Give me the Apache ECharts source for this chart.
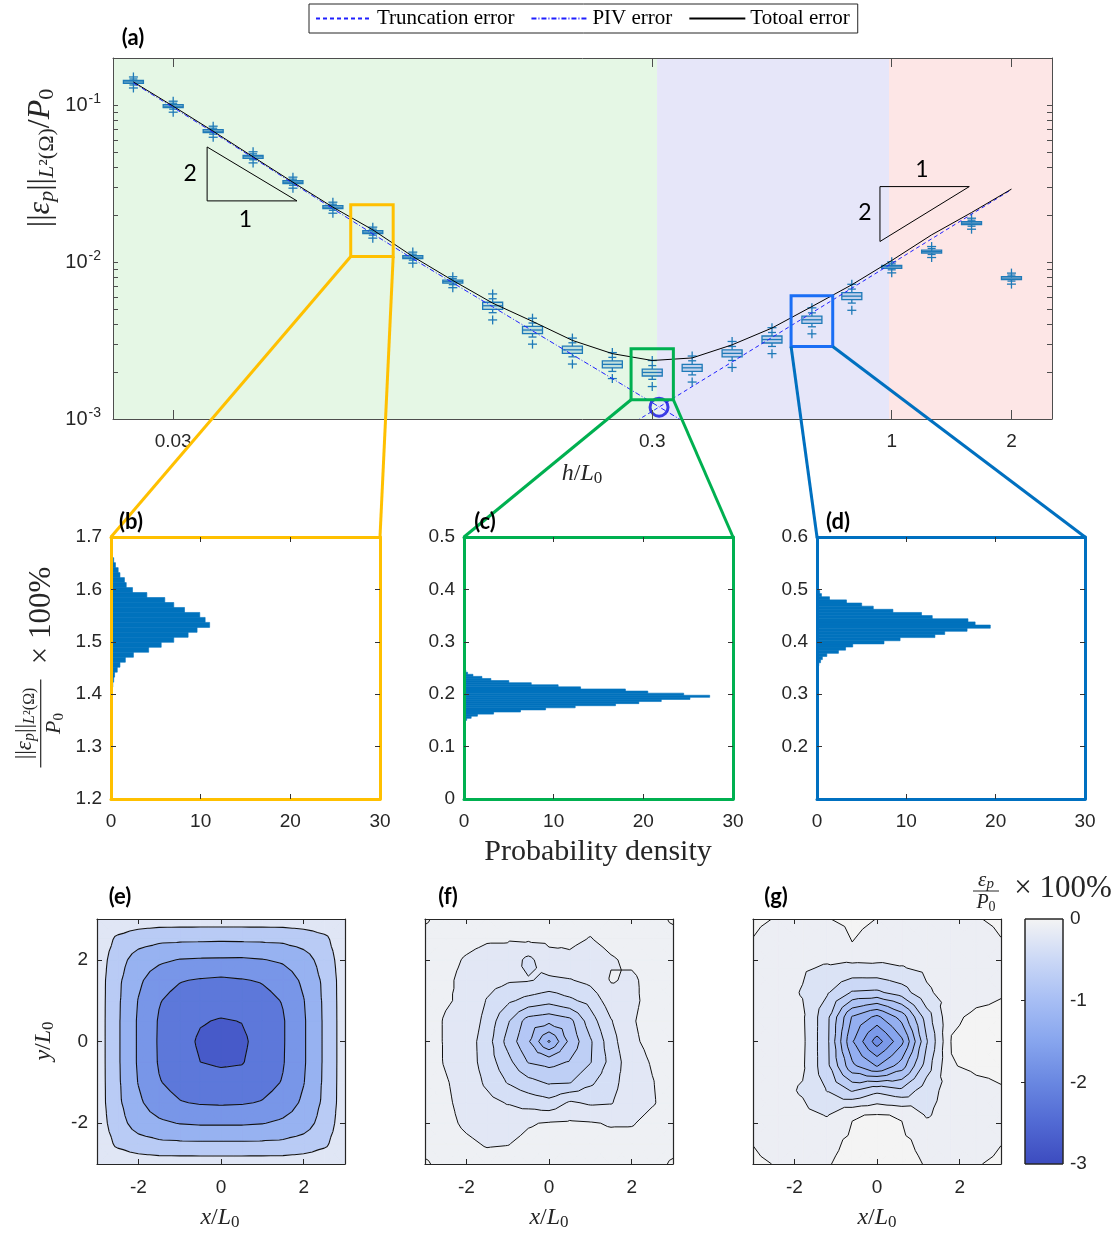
<!DOCTYPE html>
<html>
<head>
<meta charset="utf-8">
<script src="https://cdn.jsdelivr.net/npm/echarts@6/dist/echarts.min.js"></script>
<style>
html,body{margin:0;padding:0;background:#ffffff;}
#chart{width:1119px;height:1234px;}
</style>
</head>
<body>
<div id="chart"></div>
<script>
// ================= DATA: panel (a) =================
const boxH      = [0.0261,0.0316,0.0383,0.0464,0.0562,0.0681,0.0825,0.1000,0.1212,0.1468,0.1778,0.2154,0.2610,0.3162,0.3831,0.4642,0.5623,0.6813,0.8254,1.0000,1.2115,1.4678,1.7783];
const boxMed    = [0.1407,0.0986,0.0683,0.0469,0.0323,0.0224,0.01553,0.01076,0.0075,0.00527,0.00369,0.00276,0.00223,0.00198,0.00212,0.00262,0.00321,0.00429,0.00607,0.00933,0.01168,0.0177,0.00791];
const boxQ1     = [0.1377,0.0965,0.0668,0.0459,0.0316,0.0219,0.01520,0.01053,0.00734,0.00500,0.00350,0.00262,0.00212,0.00188,0.00201,0.00249,0.00305,0.00407,0.00576,0.00913,0.01143,0.01732,0.00774];
const boxQ3     = [0.1438,0.1008,0.0698,0.0479,0.0330,0.0229,0.01587,0.01100,0.00767,0.00555,0.00389,0.00291,0.00235,0.00208,0.00223,0.00276,0.00338,0.00452,0.00639,0.00954,0.01194,0.01809,0.00808];
const boxWLo    = [0.1346,0.0944,0.0654,0.0449,0.0309,0.0214,0.01486,0.01030,0.00718,0.00476,0.00333,0.00249,0.00201,0.00179,0.00191,0.00236,0.00290,0.00387,0.00548,0.00893,0.01118,0.01694,0.00757];
const boxWHi    = [0.1470,0.1030,0.0714,0.0490,0.0338,0.0234,0.01623,0.01124,0.00784,0.00584,0.00409,0.00306,0.00247,0.00219,0.00235,0.00290,0.00356,0.00475,0.00673,0.00975,0.01221,0.01850,0.00827];
const boxOutHi  = [0.1514,0.1061,0.0735,0.0505,0.0348,0.0241,0.01671,0.01158,0.00807,0.00627,0.00439,0.00328,0.00265,0.00236,0.00252,0.00312,0.00382,0.00511,0.00722,0.01004,0.01257,0.01905,0.00851];
const boxOutLo  = [0.1288,0.0903,0.0625,0.0429,0.0296,0.0205,0.01422,0.00985,0.00687,0.00428,0.00300,0.00224,0.00181,0.00161,0.00172,0.00213,0.00261,0.00349,0.00493,0.00854,0.01070,0.01621,0.00724];

const totalH    = [0.0261,0.0316,0.0383,0.0464,0.0562,0.0681,0.0825,0.1000,0.1212,0.1468,0.1778,0.2154,0.2610,0.3162,0.3831,0.4642,0.5623,0.6813,0.8254,1.0000,1.2115,1.4678,1.7783];
const totalErr  = [0.1407,0.0986,0.0683,0.0469,0.0323,0.0224,0.01606,0.01086,0.00764,0.00548,0.00419,0.00317,0.00261,0.00236,0.00245,0.00297,0.00380,0.00521,0.00717,0.01024,0.01492,0.0207,0.0292];
const pivH      = [0.0261,0.0316,0.0383,0.0464,0.0562,0.0681,0.0825,0.1000,0.1212,0.1468,0.1778,0.2154,0.2610,0.3162,0.3831];
const pivErr    = [0.1387,0.0968,0.0671,0.0462,0.0318,0.0219,0.01514,0.01050,0.00738,0.00519,0.00365,0.00257,0.00181,0.00127,0.000893];
const truncH    = [0.2610,0.3162,0.3831,0.4642,0.5623,0.6813,0.8254,1.0000,1.2115,1.4678,1.7783];
const truncErr  = [0.000783,0.00112,0.00161,0.00231,0.00331,0.00475,0.00682,0.00980,0.01407,0.0202,0.0290];
const minPointH = [0.3267];
const minPointErr = [0.00119];

const xTickVals   = [0.0316, 0.3162, 1.0, 1.7783];
const xTickLabels = ['0.03', '0.3', '1', '2'];
const yExpTicks   = [-3, -2, -1];
const yMinorTicks = [0.002,0.003,0.004,0.005,0.006,0.007,0.008,0.009,0.02,0.03,0.04,0.05,0.06,0.07,0.08,0.09];
const xRangeA = [0.02366, 2.161];
const yRangeA = [0.001, 0.2];

const regionX0 = [0.02366, 0.3236, 0.987];
const regionX1 = [0.3236, 0.987, 2.161];
const regionColors = ['#e5f7e5', '#e6e6f9', '#fde6e6'];

const zoomX0 = [0.0742, 0.2856, 0.6164];
const zoomX1 = [0.0910, 0.3500, 0.7530];
const zoomY0 = [0.01086, 0.001327, 0.0029];
const zoomY1 = [0.02317, 0.002804, 0.006102];
const zoomRectColors = ['#ffc000', '#00b050', '#1a6ef5'];
const connColors = ['#ffc000', '#00b050', '#0070c0'];

const triLeftH   = [0.0372, 0.0372, 0.0573, 0.0372];
const triLeftE   = [0.0542, 0.02456, 0.02456, 0.0542];
const triRightH  = [0.945, 1.452, 0.945, 0.945];
const triRightE  = [0.0303, 0.0303, 0.01353, 0.0303];
const triLabelH  = [0.0343, 0.0447, 1.156, 0.879];
const triLabelE  = [0.0365, 0.01859, 0.0387, 0.0206];
const triLabelText = ['2', '1', '1', '2'];

// ================= DATA: histograms (b)(c)(d) =================
const histBStart = 1.404, histBWidth = 0.0095;
const histBDensity = [0.1,0.2,0.3,0.4,0.7,1.0,1.6,2.5,4.2,5.6,7.0,8.6,9.6,11.0,10.5,9.9,8.2,7.0,6.0,4.0,2.4,1.7,1.5,1.0,0.8,0.5,0.3,0.15];
const histCStart = 0.150, histCWidth = 0.004;
const histCDensity = [0.3,0.8,1.5,3.3,6.3,9.1,12.4,16.9,19.5,22.0,25.2,27.4,24.5,20.5,18.0,13.0,10.5,7.5,5.0,3.0,2.0,1.0,0.4,0.2,0.1];
const histDStart = 0.348, histDWidth = 0.006;
const histDDensity = [0.1,0.2,0.4,0.6,1.1,2.4,3.2,4.0,7.5,9.3,13.2,14.3,16.8,19.4,17.7,16.9,12.9,11.7,8.5,6.3,5.0,3.3,1.4,0.5,0.3,0.15];

// ================= DATA: error fields (e)(f)(g) =================
const fieldEX = [-3,-2.5,-2,-1.5,-1,-0.5,0,0.5,1,1.5,2,2.5,3];
const fieldEY = [3,2.5,2,1.5,1,0.5,0,-0.5,-1,-1.5,-2,-2.5,-3];
const fieldE = [
 [-0.10,-0.15,-0.20,-0.22,-0.22,-0.22,-0.22,-0.22,-0.22,-0.22,-0.20,-0.15,-0.10],
 [-0.15,-0.60,-0.80,-0.90,-0.92,-0.93,-0.94,-0.93,-0.92,-0.90,-0.80,-0.62,-0.15],
 [-0.20,-0.80,-1.22,-1.40,-1.52,-1.55,-1.56,-1.57,-1.52,-1.42,-1.20,-0.80,-0.20],
 [-0.22,-0.90,-1.40,-1.80,-1.97,-2.04,-2.08,-2.03,-1.96,-1.80,-1.40,-0.90,-0.22],
 [-0.22,-0.92,-1.52,-1.97,-2.18,-2.30,-2.33,-2.31,-2.17,-1.97,-1.52,-0.92,-0.22],
 [-0.22,-0.93,-1.56,-2.04,-2.30,-2.47,-2.53,-2.49,-2.31,-2.04,-1.56,-0.93,-0.22],
 [-0.22,-0.93,-1.56,-2.05,-2.33,-2.56,-2.62,-2.58,-2.33,-2.04,-1.56,-0.93,-0.22],
 [-0.22,-0.93,-1.56,-2.04,-2.30,-2.50,-2.56,-2.53,-2.30,-2.03,-1.56,-0.93,-0.22],
 [-0.22,-0.92,-1.52,-1.97,-2.17,-2.31,-2.34,-2.32,-2.18,-1.97,-1.52,-0.92,-0.22],
 [-0.22,-0.90,-1.40,-1.80,-1.97,-2.04,-2.06,-2.04,-1.97,-1.80,-1.40,-0.90,-0.22],
 [-0.20,-0.80,-1.22,-1.40,-1.52,-1.56,-1.56,-1.56,-1.52,-1.40,-1.22,-0.80,-0.20],
 [-0.15,-0.60,-0.80,-0.90,-0.92,-0.93,-0.93,-0.93,-0.92,-0.90,-0.80,-0.60,-0.15],
 [-0.10,-0.15,-0.20,-0.22,-0.22,-0.22,-0.22,-0.22,-0.22,-0.22,-0.20,-0.15,-0.10]
];
const levelsE = [-3, -2.5, -2, -1.5, -1, -0.5, 0];

const fieldFX = [-3,-2.5,-2,-1.5,-1,-0.5,0,0.5,1,1.5,2,2.5,3];
const fieldFY = [3,2.5,2,1.5,1,0.5,0,-0.5,-1,-1.5,-2,-2.5,-3];
const fieldF = [
 [0.03,-0.09,-0.10,-0.11,-0.11,-0.10,-0.10,-0.11,-0.12,-0.10,-0.09,-0.08,0.03],
 [-0.08,-0.10,-0.12,-0.14,-0.14,-0.13,-0.12,-0.13,-0.155,-0.12,-0.10,-0.09,-0.08],
 [-0.09,-0.12,-0.16,-0.19,-0.20,-0.34,-0.20,-0.17,-0.20,-0.16,-0.13,-0.10,-0.09],
 [-0.10,-0.13,-0.18,-0.24,-0.28,-0.29,-0.33,-0.31,-0.26,-0.14,-0.17,-0.11,-0.09],
 [-0.10,-0.14,-0.17,-0.31,-0.42,-0.50,-0.55,-0.48,-0.40,-0.22,-0.17,-0.12,-0.09],
 [-0.10,-0.16,-0.19,-0.35,-0.58,-0.82,-0.86,-0.80,-0.52,-0.31,-0.16,-0.11,-0.09],
 [-0.10,-0.16,-0.22,-0.38,-0.65,-0.88,-1.22,-0.86,-0.62,-0.36,-0.17,-0.12,-0.09],
 [-0.09,-0.16,-0.22,-0.37,-0.55,-0.76,-0.80,-0.74,-0.61,-0.40,-0.20,-0.14,-0.10],
 [-0.09,-0.14,-0.20,-0.33,-0.46,-0.55,-0.62,-0.61,-0.48,-0.35,-0.22,-0.155,-0.10],
 [-0.08,-0.13,-0.19,-0.25,-0.31,-0.36,-0.40,-0.28,-0.32,-0.31,-0.21,-0.16,-0.10],
 [-0.08,-0.12,-0.17,-0.20,-0.20,-0.16,-0.14,-0.13,-0.14,-0.16,-0.16,-0.11,-0.09],
 [-0.08,-0.10,-0.13,-0.16,-0.155,-0.12,-0.11,-0.10,-0.11,-0.11,-0.10,-0.09,-0.08],
 [0.03,-0.08,-0.10,-0.11,-0.10,-0.10,-0.09,-0.09,-0.09,-0.09,-0.09,-0.08,0.03]
];
const levelsF = [-1.35, -1.2, -1.05, -0.9, -0.75, -0.6, -0.45, -0.3, -0.15, 0];

const fieldGX = [-3,-2.4,-1.8,-1.2,-0.6,0,0.6,1.2,1.8,2.4,3];
const fieldGY = [3,2.4,1.8,1.2,0.6,0,-0.6,-1.2,-1.8,-2.4,-3];
const fieldG = [
 [0.03,-0.01,-0.08,-0.005,0.03,-0.002,-0.06,-0.08,-0.07,-0.01,0.03],
 [-0.01,-0.08,-0.12,-0.10,-0.002,-0.05,-0.10,-0.12,-0.10,-0.08,-0.01],
 [-0.08,-0.12,-0.18,-0.22,-0.25,-0.24,-0.21,-0.16,-0.10,-0.06,-0.05],
 [-0.10,-0.14,-0.21,-0.38,-0.62,-0.64,-0.50,-0.23,-0.12,-0.05,-0.01],
 [-0.10,-0.14,-0.17,-0.55,-1.22,-1.45,-1.12,-0.50,-0.03,0.03,0.03],
 [-0.10,-0.14,-0.16,-0.56,-1.38,-1.90,-1.45,-0.62,0.01,0.05,0.05],
 [-0.10,-0.14,-0.17,-0.55,-1.15,-1.41,-1.10,-0.50,-0.01,0.03,0.03],
 [-0.10,-0.14,-0.22,-0.41,-0.62,-0.45,-0.55,-0.28,-0.12,-0.05,-0.01],
 [-0.08,-0.12,-0.15,-0.21,-0.01,0.01,-0.01,-0.22,-0.12,-0.08,-0.05],
 [-0.01,-0.08,-0.10,-0.05,0.03,0.05,0.03,-0.05,-0.10,-0.08,-0.01],
 [0.03,-0.01,-0.06,-0.01,0.05,0.05,0.05,-0.01,-0.06,-0.01,0.03]
];
const levelsG = [-2.2, -2.0, -1.8, -1.6, -1.4, -1.2, -1.0, -0.8, -0.6, -0.4, -0.2, 0];

const cmapVals = [0, -0.5, -1, -1.5, -2, -2.5, -3];
const cmapCols = ['#f4f4f4', '#cbd8f6', '#a7bef4', '#87a5ee', '#6987e1', '#5169d3', '#3c4bbf'];
const colorbarLabels = [-3, -2, -1, 0];

// ================= HELPERS =================
const L = Math.log10;
const SERIF = "'Liberation Serif', 'DejaVu Serif', serif";
const SANS = "'Liberation Sans', Arial, sans-serif";
const BOLD = "Lato, 'Open Sans', sans-serif";
const TXT = '#262626';

function hexToRgb(h) { return [parseInt(h.substr(1,2),16), parseInt(h.substr(3,2),16), parseInt(h.substr(5,2),16)]; }
function cmap(v) {
  if (v >= cmapVals[0]) return cmapCols[0];
  if (v <= cmapVals[cmapVals.length-1]) return cmapCols[cmapCols.length-1];
  for (let i = 0; i < cmapVals.length-1; i++) {
    const a = cmapVals[i], b = cmapVals[i+1];
    if (v <= a && v >= b) {
      const t = (a - v) / (a - b);
      const c1 = hexToRgb(cmapCols[i]), c2 = hexToRgb(cmapCols[i+1]);
      const c = c1.map((x, k) => Math.round(x + t * (c2[k] - x)));
      return 'rgb(' + c.join(',') + ')';
    }
  }
  return cmapCols[0];
}
function clipPoly(poly, thr, above) {
  const out = [];
  for (let i = 0; i < poly.length; i++) {
    const a = poly[i], b = poly[(i+1) % poly.length];
    const ina = above ? a.v >= thr : a.v <= thr;
    const inb = above ? b.v >= thr : b.v <= thr;
    if (ina) out.push(a);
    if (ina !== inb) {
      const t = (thr - a.v) / (b.v - a.v);
      out.push({x: a.x + t * (b.x - a.x), y: a.y + t * (b.y - a.y), v: thr});
    }
  }
  return out;
}

const xAxes = [], yAxes = [];
function frameAxes(gi, xr, yr, o) {
  const base = (extra) => Object.assign({
    gridIndex: gi, type: 'value', z: 10, splitLine: {show: false}, splitArea: {show: false},
    axisLine: {show: true, onZero: false, lineStyle: {color: o.lc, width: o.lw}}
  }, extra);
  const tick = (vals, len) => ({show: true, inside: true, length: len, customValues: vals, lineStyle: {color: o.tc, width: 1}});
  const lab = (show, vals, fmt, margin, rich) => ({show: show, customValues: vals, formatter: fmt, margin: margin, color: TXT, fontFamily: SANS, fontSize: o.fs || 19, rich: rich, hideOverlap: false});
  const xb = xAxes.push(base({min: xr[0], max: xr[1], position: 'bottom', axisTick: tick(o.xt, o.xtl), axisLabel: lab(o.showX !== false, o.xl || o.xt, o.xf, o.xm, o.xRich)})) - 1;
  xAxes.push(base({min: xr[0], max: xr[1], position: 'top', axisTick: tick(o.xt, o.xtl), axisLabel: {show: false}}));
  const yl = yAxes.push(base({min: yr[0], max: yr[1], position: 'left', axisTick: tick(o.yt, o.ytl), axisLabel: lab(o.showY !== false, o.yl || o.yt, o.yf, o.ym, o.yRich)})) - 1;
  yAxes.push(base({min: yr[0], max: yr[1], position: 'right', axisTick: tick(o.yt, o.ytl), axisLabel: {show: false}}));
  return {x: xb, y: yl};
}

const grids = [
  {left: 113, top: 58, width: 939, height: 361},
  {left: 111, top: 537, width: 269, height: 262},
  {left: 464, top: 537, width: 269, height: 262},
  {left: 817, top: 537, width: 268, height: 262},
  {left: 97, top: 919, width: 248, height: 245},
  {left: 425, top: 919, width: 248, height: 245},
  {left: 753, top: 919, width: 248, height: 245},
  {left: 1025, top: 919, width: 38, height: 245}
].map(g => Object.assign({containLabel: false, outerBoundsMode: 'none'}, g));

// ---- axes ----
const xLabelFor = v => { for (let i = 0; i < xTickVals.length; i++) if (Math.abs(L(xTickVals[i]) - v) < 1e-6) return xTickLabels[i]; return ''; };
const A = frameAxes(0, [L(xRangeA[0]), L(xRangeA[1])], [L(yRangeA[0]), L(yRangeA[1])], {
  lc: '#4d4d4d', lw: 1, tc: '#4d4d4d', xtl: 9, ytl: 5,
  xt: xTickVals.map(L), xf: xLabelFor, xm: 13,
  yt: yExpTicks.concat(yMinorTicks.map(L)), yl: yExpTicks, ym: 12,
  yf: v => '{b|10}{s|' + Math.round(v) + '}',
  yRich: {b: {fontSize: 20, fontFamily: SANS, color: TXT, verticalAlign: 'middle'}, s: {fontSize: 14, fontFamily: SANS, color: TXT, verticalAlign: 'middle', padding: [0, 0, 12, 1]}}
});
const histX = [0, 10, 20, 30];
const B = frameAxes(1, [0, 30], [1.2, 1.7], {lc: '#ffc000', lw: 3, tc: '#333', xtl: 5, ytl: 5, xt: [10, 20], xl: histX, xf: v => String(v), xm: 13,
  yt: [1.3, 1.4, 1.5, 1.6], yl: [1.2, 1.3, 1.4, 1.5, 1.6, 1.7], yf: v => v.toFixed(1), ym: 9});
const C = frameAxes(2, [0, 30], [0, 0.5], {lc: '#00b050', lw: 3, tc: '#333', xtl: 5, ytl: 5, xt: [10, 20], xl: histX, xf: v => String(v), xm: 13,
  yt: [0.1, 0.2, 0.3, 0.4], yl: [0, 0.1, 0.2, 0.3, 0.4, 0.5], yf: v => (Math.abs(v) < 1e-9 ? '0' : v.toFixed(1)), ym: 9});
const D = frameAxes(3, [0, 30], [0.1, 0.6], {lc: '#0070c0', lw: 3, tc: '#333', xtl: 5, ytl: 5, xt: [10, 20], xl: histX, xf: v => String(v), xm: 13,
  yt: [0.2, 0.3, 0.4, 0.5], yl: [0.2, 0.3, 0.4, 0.5, 0.6], yf: v => v.toFixed(1), ym: 9});
const fieldTicks = [-2, 0, 2];
const E = frameAxes(4, [-3, 3], [-3, 3], {lc: '#262626', lw: 1.2, tc: '#262626', xtl: 5, ytl: 5, xt: fieldTicks, xf: v => String(v), xm: 14, yt: fieldTicks, yf: v => String(v), ym: 9});
const F = frameAxes(5, [-3, 3], [-3, 3], {lc: '#262626', lw: 1.2, tc: '#262626', xtl: 5, ytl: 5, xt: fieldTicks, xf: v => String(v), xm: 14, yt: fieldTicks, showY: false});
const G = frameAxes(6, [-3, 3], [-3, 3], {lc: '#262626', lw: 1.2, tc: '#262626', xtl: 5, ytl: 5, xt: fieldTicks, xf: v => String(v), xm: 14, yt: fieldTicks, showY: false});
const CBx = xAxes.push({gridIndex: 7, type: 'value', min: 0, max: 1, show: false}) - 1;
const CBy = yAxes.push({gridIndex: 7, type: 'value', min: -3, max: 0, position: 'right', z: 10,
  axisLine: {show: false}, splitLine: {show: false},
  axisTick: {show: true, inside: true, length: 4, customValues: [-2, -1], lineStyle: {color: '#262626'}},
  axisLabel: {customValues: colorbarLabels, formatter: v => String(v), margin: 7, color: TXT, fontFamily: SANS, fontSize: 19}}) - 1;

// ---- series ----
const series = [];
series.push({
  type: 'custom', xAxisIndex: A.x, yAxisIndex: A.y, silent: true, z: 1, clip: true,
  data: regionX0.map((x0, i) => [L(x0), L(regionX1[i]), i]),
  renderItem: (params, api) => {
    const a = api.coord([api.value(0), L(yRangeA[1])]), b = api.coord([api.value(1), L(yRangeA[0])]);
    return {type: 'rect', shape: {x: a[0], y: a[1], width: b[0] - a[0], height: b[1] - a[1]}, style: {fill: regionColors[api.value(2)]}};
  }
});
const BOXC = '#1f7ab8';
series.push({
  type: 'custom', xAxisIndex: A.x, yAxisIndex: A.y, silent: true, z: 3, clip: true,
  encode: {x: 0, y: [1, 2, 3, 4, 5, 6, 7]},
  data: boxH.map((h, i) => [L(h), L(boxWLo[i]), L(boxQ1[i]), L(boxMed[i]), L(boxQ3[i]), L(boxWHi[i]), L(boxOutHi[i]), L(boxOutLo[i])]),
  renderItem: (params, api) => {
    const x = api.value(0);
    const c = k => api.coord([x, api.value(k)]);
    const wlo = c(1), q1 = c(2), med = c(3), q3 = c(4), whi = c(5), oh = c(6), ol = c(7);
    const cx = med[0], hw = 10, cw = 4, ps = 4.5;
    const st = {stroke: BOXC, lineWidth: 1.3, fill: 'none'};
    const ln = (x1, y1, x2, y2) => ({type: 'line', shape: {x1, y1, x2, y2}, style: st});
    return {type: 'group', children: [
      ln(cx, q3[1], cx, whi[1]), ln(cx - cw, whi[1], cx + cw, whi[1]),
      ln(cx, q1[1], cx, wlo[1]), ln(cx - cw, wlo[1], cx + cw, wlo[1]),
      {type: 'rect', shape: {x: cx - hw, y: q3[1], width: 2 * hw, height: Math.max(1, q1[1] - q3[1])}, style: {stroke: BOXC, fill: 'rgba(31,122,184,0.18)', lineWidth: 1.3}},
      ln(cx - hw, med[1], cx + hw, med[1]),
      ln(cx - ps, oh[1], cx + ps, oh[1]), ln(cx, oh[1] - ps, cx, oh[1] + ps),
      ln(cx - ps, ol[1], cx + ps, ol[1]), ln(cx, ol[1] - ps, cx, ol[1] + ps)
    ]};
  }
});
series.push({name: 'Truncation error', type: 'line', xAxisIndex: A.x, yAxisIndex: A.y, z: 4, symbol: 'none', showSymbol: false, silent: true,
  data: truncH.map((h, i) => [L(h), L(truncErr[i])]), lineStyle: {color: '#2020ff', width: 1, type: [4, 3]}, itemStyle: {color: '#2020ff'}});
series.push({name: 'PIV error', type: 'line', xAxisIndex: A.x, yAxisIndex: A.y, z: 4, symbol: 'none', showSymbol: false, silent: true,
  data: pivH.map((h, i) => [L(h), L(pivErr[i])]), lineStyle: {color: '#2020ff', width: 1, type: [5, 2, 1, 2]}, itemStyle: {color: '#2020ff'}});
series.push({name: 'Totoal error', type: 'line', xAxisIndex: A.x, yAxisIndex: A.y, z: 5, symbol: 'none', showSymbol: false, silent: true,
  data: totalH.map((h, i) => [L(h), L(totalErr[i])]), lineStyle: {color: '#000000', width: 1}, itemStyle: {color: '#000000'}});
series.push({type: 'scatter', xAxisIndex: A.x, yAxisIndex: A.y, z: 6, silent: true, symbol: 'circle', symbolSize: 18,
  data: minPointH.map((h, i) => [L(h), L(minPointErr[i])]), itemStyle: {color: 'rgba(0,0,0,0)', borderColor: '#1010e0', borderWidth: 3}});
series.push({type: 'line', xAxisIndex: A.x, yAxisIndex: A.y, z: 5, symbol: 'none', silent: true,
  data: triLeftH.map((h, i) => [L(h), L(triLeftE[i])]), lineStyle: {color: '#000', width: 1}});
series.push({type: 'line', xAxisIndex: A.x, yAxisIndex: A.y, z: 5, symbol: 'none', silent: true,
  data: triRightH.map((h, i) => [L(h), L(triRightE[i])]), lineStyle: {color: '#000', width: 1}});
series.push({type: 'custom', xAxisIndex: A.x, yAxisIndex: A.y, z: 6, silent: true,
  data: triLabelH.map((h, i) => [L(h), L(triLabelE[i]), i]),
  renderItem: (params, api) => {
    const p = api.coord([api.value(0), api.value(1)]);
    return {type: 'text', x: p[0], y: p[1], style: {text: triLabelText[api.value(2)], fill: '#000', fontSize: 23, fontFamily: BOLD, align: 'center', verticalAlign: 'middle', textAlign: 'center', textVerticalAlign: 'middle'}};
  }
});
series.push({type: 'custom', xAxisIndex: A.x, yAxisIndex: A.y, z: 7, silent: true, clip: false,
  data: zoomX0.map((x0, i) => [L(x0), L(zoomX1[i]), L(zoomY0[i]), L(zoomY1[i]), i]),
  renderItem: (params, api) => {
    const a = api.coord([api.value(0), api.value(3)]), b = api.coord([api.value(1), api.value(2)]);
    return {type: 'rect', shape: {x: a[0], y: a[1], width: b[0] - a[0], height: b[1] - a[1]}, style: {fill: 'none', stroke: zoomRectColors[api.value(4)], lineWidth: 3}};
  }
});
function histSeries(ax, start, width, dens) {
  return {type: 'custom', xAxisIndex: ax.x, yAxisIndex: ax.y, z: 3, silent: true, clip: true,
    data: dens.map((d, i) => [start + i * width, start + (i + 1) * width, d]),
    renderItem: (params, api) => {
      const a = api.coord([0, api.value(1)]), b = api.coord([api.value(2), api.value(0)]);
      return {type: 'rect', shape: {x: a[0], y: a[1], width: b[0] - a[0], height: b[1] - a[1]}, style: {fill: '#0072bd', stroke: '#0072bd', lineWidth: 0.6}};
    }};
}
series.push(histSeries(B, histBStart, histBWidth, histBDensity));
series.push(histSeries(C, histCStart, histCWidth, histCDensity));
series.push(histSeries(D, histDStart, histDWidth, histDDensity));
function contourSeries(ax, xs, ys, Z, levels, lw) {
  return {type: 'custom', xAxisIndex: ax.x, yAxisIndex: ax.y, z: 3, silent: true, clip: true,
    data: [[0, 0]],
    renderItem: (params, api) => {
      const bounds = [-Infinity].concat(levels, [Infinity]);
      const bandPaths = bounds.slice(0, -1).map(() => '');
      let linePath = '';
      const pt = p => api.coord([p.x, p.y]);
      const f2 = n => n.toFixed(2);
      for (let r = 0; r < ys.length - 1; r++) {
        for (let c = 0; c < xs.length - 1; c++) {
          const a = {x: xs[c], y: ys[r], v: Z[r][c]}, b = {x: xs[c+1], y: ys[r], v: Z[r][c+1]};
          const d = {x: xs[c+1], y: ys[r+1], v: Z[r+1][c+1]}, e = {x: xs[c], y: ys[r+1], v: Z[r+1][c]};
          const m = {x: (a.x + b.x) / 2, y: (a.y + e.y) / 2, v: (a.v + b.v + d.v + e.v) / 4};
          [[a, b, m], [b, d, m], [d, e, m], [e, a, m]].forEach(tri => {
            const vmin = Math.min(tri[0].v, tri[1].v, tri[2].v), vmax = Math.max(tri[0].v, tri[1].v, tri[2].v);
            for (let k = 0; k < bounds.length - 1; k++) {
              const lo = bounds[k], hi = bounds[k+1];
              if (vmax < lo || vmin > hi) continue;
              let poly = tri;
              if (lo > -Infinity) poly = clipPoly(poly, lo, true);
              if (poly.length >= 3 && hi < Infinity) poly = clipPoly(poly, hi, false);
              if (poly.length < 3) continue;
              let s = '';
              poly.forEach((p, i) => { const q = pt(p); s += (i ? 'L' : 'M') + f2(q[0]) + ' ' + f2(q[1]); });
              bandPaths[k] += s + 'Z';
            }
            levels.forEach(lv => {
              const pts = [];
              for (let i = 0; i < 3; i++) {
                const p = tri[i], q = tri[(i + 1) % 3];
                if ((p.v >= lv) !== (q.v >= lv)) {
                  const t = (lv - p.v) / (q.v - p.v);
                  pts.push({x: p.x + t * (q.x - p.x), y: p.y + t * (q.y - p.y)});
                }
              }
              if (pts.length === 2) {
                const p1 = pt(pts[0]), p2 = pt(pts[1]);
                linePath += 'M' + f2(p1[0]) + ' ' + f2(p1[1]) + 'L' + f2(p2[0]) + ' ' + f2(p2[1]);
              }
            });
          });
        }
      }
      const children = [];
      bandPaths.forEach((dp, k) => {
        if (!dp) return;
        let col;
        if (k === 0) col = cmap(levels[0]);
        else if (k === bounds.length - 2) col = cmap(levels[levels.length - 1]);
        else col = cmap((bounds[k] + bounds[k + 1]) / 2);
        children.push({type: 'path', shape: {pathData: dp}, style: {fill: col, stroke: col, lineWidth: 0.8}});
      });
      if (linePath) children.push({type: 'path', shape: {pathData: linePath}, style: {fill: 'none', stroke: '#111', lineWidth: lw}});
      return {type: 'group', children: children};
    }};
}
series.push(contourSeries(E, fieldEX, fieldEY, fieldE, levelsE, 1.1));
series.push(contourSeries(F, fieldFX, fieldFY, fieldF, levelsF, 1.0));
series.push(contourSeries(G, fieldGX, fieldGY, fieldG, levelsG, 1.0));
series.push({type: 'custom', xAxisIndex: CBx, yAxisIndex: CBy, z: 3, silent: true, data: [[0, 0]],
  renderItem: (params, api) => {
    const a = api.coord([0, 0]), b = api.coord([1, -3]);
    const stops = cmapVals.map((v, i) => ({offset: -v / 3, color: cmapCols[i]}));
    return {type: 'rect', shape: {x: a[0], y: a[1], width: b[0] - a[0], height: b[1] - a[1]},
      style: {fill: new echarts.graphic.LinearGradient(0, 0, 0, 1, stops), stroke: '#262626', lineWidth: 1}};
  }
});

const chart = echarts.init(document.getElementById('chart'), null, {renderer: 'canvas'});
chart.setOption({
  animation: false,
  backgroundColor: '#ffffff',
  grid: grids,
  xAxis: xAxes,
  yAxis: yAxes,
  legend: {
    data: ['Truncation error', 'PIV error', 'Totoal error'],
    left: 309, top: 4, orient: 'horizontal',
    itemWidth: 56, itemHeight: 12, itemGap: 16,
    padding: [4, 8, 4, 6],
    borderColor: '#262626', borderWidth: 1, backgroundColor: '#ffffff',
    itemStyle: {opacity: 0},
    textStyle: {fontFamily: SERIF, fontSize: 21, color: '#000'},
    selectedMode: false
  },
  series: series
});

// ---- text and connectors ----
function mrich(size) {
  const sub = Math.round(size * 0.7), off = Math.round(size * 0.42);
  return {
    n: {fontFamily: SERIF, fontSize: size, fill: TXT, color: TXT, verticalAlign: 'middle'},
    i: {fontFamily: SERIF, fontSize: size, fontStyle: 'italic', fill: TXT, color: TXT, verticalAlign: 'middle'},
    s: {fontFamily: SERIF, fontSize: sub, fontStyle: 'italic', fill: TXT, color: TXT, verticalAlign: 'middle', padding: [off, 0, 0, 0]},
    sn: {fontFamily: SERIF, fontSize: sub, fill: TXT, color: TXT, verticalAlign: 'middle', padding: [off, 0, 0, 0]}
  };
}
function txt(x, y, text, extra) {
  return {type: 'text', x: x, y: y, z: 60, silent: true, style: Object.assign({text: text, fill: TXT, align: 'center', verticalAlign: 'middle', textAlign: 'center', textVerticalAlign: 'middle'}, extra)};
}
function bold(x, y, t) { return txt(x, y, t, {fontFamily: BOLD, fontWeight: 'bold', fontSize: 22, fill: '#000'}); }
function mathTxt(x, y, t, size, rot) {
  const el = txt(x, y, t, {rich: mrich(size), fontFamily: SERIF, fontSize: size});
  if (rot) el.rotation = rot;
  return el;
}
const xOverL = '{i|x}{n|/}{i|L}{sn|0}';
const gfx = [
  bold(133, 38, '(a)'), bold(131, 522, '(b)'), bold(485, 522, '(c)'), bold(838, 522, '(d)'),
  bold(120, 897, '(e)'), bold(448, 897, '(f)'), bold(776, 897, '(g)'),
  mathTxt(582, 474, '{i|h}{n|/}{i|L}{sn|0}', 24),
  txt(598, 852, 'Probability density', {fontFamily: SERIF, fontSize: 30, fill: TXT}),
  mathTxt(220, 1218, xOverL, 24), mathTxt(549, 1218, xOverL, 24), mathTxt(877, 1218, xOverL, 24),
  mathTxt(44, 1041, '{i|y}{n|/}{i|L}{sn|0}', 24, Math.PI / 2),
  mathTxt(41, 158, '{n|||}{i|ε}{s|p}{n|||}{s|L}{sn|²(Ω)}{n|/}{i|P}{sn|0}', 32, Math.PI / 2),
  {type: 'group', x: 40.7, y: 723.5, rotation: Math.PI / 2, z: 60, children: [
    txt(0, -16, '{n|||}{i|ε}{s|p}{n|||}{s|L}{sn|²(Ω)}', {rich: mrich(23), fontFamily: SERIF, fontSize: 23}),
    {type: 'line', shape: {x1: -44, y1: 0, x2: 44, y2: 0}, style: {stroke: TXT, lineWidth: 1.2}},
    txt(0, 14, '{i|P}{sn|0}', {rich: mrich(22), fontFamily: SERIF, fontSize: 22}),
    txt(108, 1, '× 100%', {fontFamily: SERIF, fontSize: 31, fill: TXT})
  ]},
  {type: 'group', x: 986, y: 891, z: 60, children: [
    txt(0, -11, '{i|ε}{s|p}', {rich: mrich(21), fontFamily: SERIF, fontSize: 21}),
    {type: 'line', shape: {x1: -13, y1: 0, x2: 13, y2: 0}, style: {stroke: TXT, lineWidth: 1}},
    txt(0, 12, '{i|P}{sn|0}', {rich: mrich(20), fontFamily: SERIF, fontSize: 20}),
    txt(77, -2, '× 100%', {fontFamily: SERIF, fontSize: 31, fill: TXT})
  ]}
];
const panels = [B, C, D];
const panelTop = [1.7, 0.5, 0.6];
for (let k = 0; k < 3; k++) {
  const r0 = chart.convertToPixel({xAxisIndex: A.x, yAxisIndex: A.y}, [L(zoomX0[k]), L(zoomY0[k])]);
  const r1 = chart.convertToPixel({xAxisIndex: A.x, yAxisIndex: A.y}, [L(zoomX1[k]), L(zoomY0[k])]);
  const p0 = chart.convertToPixel({xAxisIndex: panels[k].x, yAxisIndex: panels[k].y}, [0, panelTop[k]]);
  const p1 = chart.convertToPixel({xAxisIndex: panels[k].x, yAxisIndex: panels[k].y}, [30, panelTop[k]]);
  gfx.push({type: 'line', z: 50, silent: true, shape: {x1: r0[0], y1: r0[1], x2: p0[0], y2: p0[1]}, style: {stroke: connColors[k], lineWidth: 3}});
  gfx.push({type: 'line', z: 50, silent: true, shape: {x1: r1[0], y1: r1[1], x2: p1[0], y2: p1[1]}, style: {stroke: connColors[k], lineWidth: 3}});
}
chart.setOption({graphic: {elements: gfx}});
</script>
</body>
</html>
